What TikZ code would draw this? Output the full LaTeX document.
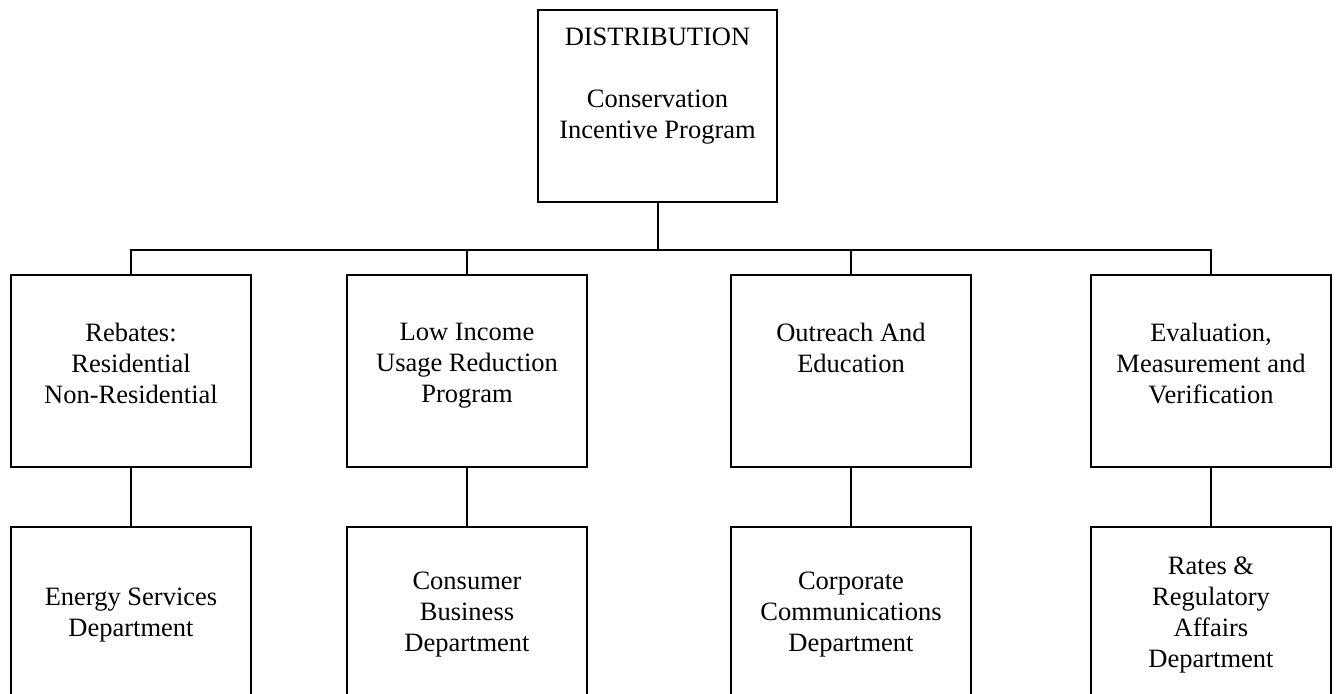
\documentclass[tikz,border=0pt]{standalone}
\usepackage{fontspec}
\setmainfont{Liberation Serif}
\begin{document}
\begin{tikzpicture}[x=1pt,y=-1pt,
  box/.style={draw, line width=2pt, inner sep=0pt, outer sep=0pt, minimum width=240pt, minimum height=192pt, anchor=north west},
  lowbox/.style={draw, line width=2pt, inner sep=0pt, outer sep=0pt, minimum width=240pt, minimum height=176pt, anchor=north west, align=center, font=\fontsize{26.5}{31}\selectfont},
  lbl/.style={align=center, inner sep=0pt, outer sep=0pt, anchor=north, font=\fontsize{26.5}{31}\selectfont},
  link/.style={line width=2pt}]
\useasboundingbox (0,0) rectangle (1337,693);
\clip (0,0) rectangle (1337,693);
\fill[white] (0,0) rectangle (1337,693);
% top box
\node[box, minimum width=239pt] (top) at (538,10) {};
\node[lbl, yshift=-17.5pt] (ttop) at (top.north) {DISTRIBUTION\\[31pt]Conservation\\Incentive Program};
% row 2
\node[box] (r1) at (11,275) {};
\node[box] (r2) at (347,275) {};
\node[box] (r3) at (731,275) {};
\node[box] (r4) at (1091,275) {};
\node[lbl, yshift=-48pt] (t1) at (r1.north) {Rebates:\\Residential\\Non-Residential};
\node[lbl, yshift=-48pt] (t2) at (r2.north) {Low Income\\Usage Reduction\\Program};
\node[lbl, yshift=-48pt] (t3) at (r3.north) {Outreach And\\Education};
\node[lbl, yshift=-48pt] (t4) at (r4.north) {Evaluation,\\Measurement and\\Verification};
% row 3
\node[lowbox] (d1) at (11,527) {Energy Services\\Department};
\node[lowbox] (d2) at (347,527) {Consumer\\Business\\Department};
\node[lowbox] (d3) at (731,527) {Corporate\\Communications\\Department};
\node[lowbox] (d4) at (1091,527) {Rates \&\\Regulatory\\Affairs\\Department};
% connectors
\coordinate (bus) at (0,250);
\draw[link] (top.south) -- (top.south |- bus);
\draw[link] (r1.north) -- (r1.north |- bus) -- (r4.north |- bus) -- (r4.north);
\draw[link] (r2.north |- bus) -- (r2.north);
\draw[link] (r3.north |- bus) -- (r3.north);
\draw[link] (r1.south) -- (d1.north);
\draw[link] (r2.south) -- (d2.north);
\draw[link] (r3.south) -- (d3.north);
\draw[link] (r4.south) -- (d4.north);
\end{tikzpicture}
\end{document}
